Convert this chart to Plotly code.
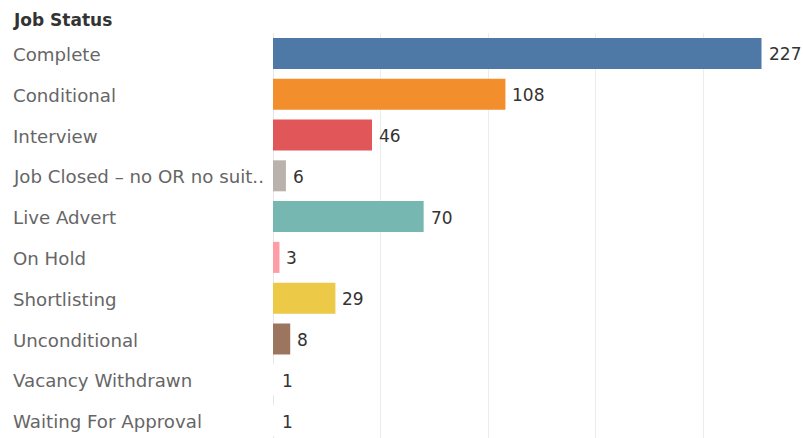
import plotly.graph_objects as go

# Job status counts
statuses = [
    "Complete",
    "Conditional",
    "Interview",
    "Job Closed – no OR no suit..",
    "Live Advert",
    "On Hold",
    "Shortlisting",
    "Unconditional",
    "Vacancy Withdrawn",
    "Waiting For Approval",
]
counts = [227, 108, 46, 6, 70, 3, 29, 8, 1, 1]
colors = [
    "#4e79a7", "#f28e2b", "#e15759", "#bab0ac", "#76b7b2",
    "#ff9da7", "#edc948", "#9c755f", "#ffffff", "#ffffff",
]

W, H = 803, 438
left, top = 273, 33
FONT = "DejaVu Sans"

fig = go.Figure(
    go.Bar(
        x=counts,
        y=statuses,
        orientation="h",
        marker=dict(color=colors, line=dict(width=0)),
        width=0.76,
        hoverinfo="x+y",
    )
)

# value labels just past each bar end
annotations = []
for s, v in zip(statuses, counts):
    annotations.append(dict(
        x=v, y=s, xref="x", yref="y", text=str(v), showarrow=False,
        xanchor="left", yanchor="middle", xshift=5, yshift=-1,
        font=dict(family=FONT, size=17, color="#333333"),
    ))

# category labels on the left, left aligned
label_x = (13 - left) / (W - left)
for s in statuses:
    annotations.append(dict(
        x=label_x, y=s, xref="paper", yref="y", text=s, showarrow=False,
        xanchor="left", yanchor="middle", xshift=-2, yshift=-1,
        font=dict(family=FONT, size=18.2, color="#666666"),
    ))

# header
annotations.append(dict(
    x=label_x, y=1, xref="paper", yref="paper", yshift=13, xshift=-2,
    text="<b>Job Status</b>",
    showarrow=False, xanchor="left", yanchor="middle",
    font=dict(family=FONT, size=17, color="#333333"),
))

row_px = 40.8
n_visible = (H - top) / row_px

fig.update_layout(
    width=W, height=H,
    margin=dict(l=left, r=0, t=top, b=0),
    paper_bgcolor="white", plot_bgcolor="white",
    showlegend=False,
    annotations=annotations,
    xaxis=dict(
        range=[0, (W - left) / 2.152],
        tick0=0, dtick=50,
        showticklabels=False,
        showgrid=True, gridcolor="#ececec", gridwidth=1,
        zeroline=True, zerolinecolor="#e6e6e6", zerolinewidth=1,
        showline=False, fixedrange=True,
    ),
    yaxis=dict(
        categoryorder="array", categoryarray=statuses,
        range=[-0.5 + n_visible, -0.5],
        showticklabels=False, showgrid=False, zeroline=False,
        showline=False, fixedrange=True,
    ),
)

fig.write_html("out.html", config={"displayModeBar": False})
